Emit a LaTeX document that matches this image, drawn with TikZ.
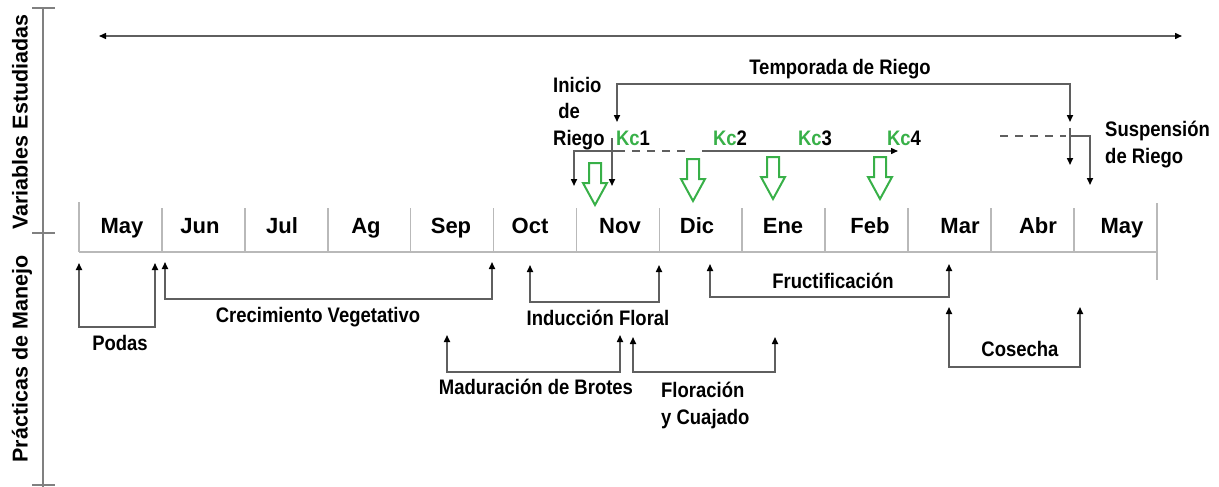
\documentclass[tikz,border=0pt]{standalone}
\usepackage{fontspec}
\setmainfont{Liberation Sans}
\newfontfamily\estrecha[FakeStretch=0.88]{Liberation Sans}
\usepackage{xcolor}
\usepackage{tikz}
\usetikzlibrary{arrows.meta}
\definecolor{kcverde}{RGB}{56,176,72}
\definecolor{linea}{RGB}{95,95,95}
\definecolor{celda}{RGB}{185,185,185}
\tikzset{
  punta/.tip={Triangle[length=7pt,width=6pt,color=black]},
  tramo/.style={draw=linea, line width=1.6pt, punta-punta},
  flecha/.style={draw=linea, line width=1.6pt, -punta},
  etiqueta/.style={font=\estrecha\bfseries\fontsize{21}{26.5}\selectfont, inner sep=0pt},
  mes/.style={font=\bfseries\fontsize{22}{26}\selectfont, inner sep=0pt, anchor=base},
  kcflecha/.style={draw=kcverde, line width=2pt},
}
\begin{document}
\begin{tikzpicture}[x=1pt,y=-1pt]
    \useasboundingbox (0,0) rectangle (1219,487);
    %EJE
    \draw[gray, line width=1.4pt] (43,8) -- (43,487);
    \foreach \y in {8,233,485} \draw[gray, line width=1.4pt] (32,\y) -- (55,\y);
    \node[rotate=90, font=\bfseries\fontsize{21.5}{24}\selectfont] (variables) at (20,122) {Variables Estudiadas};
    \node[rotate=90, font=\bfseries\fontsize{21.5}{24}\selectfont] (practicas) at (22,359) {Prácticas de Manejo};
    %MESES
    \draw[celda, line width=1.6pt] (79,252) -- (1157,252);
    \draw[celda, line width=1.6pt] (79,202) -- (79,252);
    \foreach \i in {1,...,12} \draw[celda, line width=1.6pt] (79+82.9*\i,208) -- (79+82.9*\i,252);
    \draw[celda, line width=1.6pt] (1157,203) -- (1157,280);
    \foreach \m/\x [count=\k] in {May/122,Jun/200,Jul/282,Ag/366,Sep/451,Oct/530,Nov/620,Dic/697,Ene/783,Feb/870,Mar/960,Abr/1038,May/1122}
        \node[mes] (mes\k) at (\x,233) {\m};
    %RIEGO
    \coordinate (ciclo1) at (99,36);
    \coordinate (ciclo2) at (1182,36);
    \draw[linea, line width=1.4pt, punta-punta] (ciclo1) -- (ciclo2);
    \coordinate (tempI) at (617,122);
    \coordinate (tempD) at (1070,122);
    \draw[tramo] (tempI) -- (617,84) -| (tempD);
    \node[etiqueta, anchor=base] (temporada) at (840,75) {Temporada de Riego};
    \node[etiqueta, align=left, anchor=north west] (inicio) at (553,77) {Inicio\\\ de\\Riego};
    \foreach \x [count=\k] in {633,730,815,904}
        \node[etiqueta, anchor=base] (kc\k) at (\x,145) {\textcolor{kcverde}{Kc}\k};
    \coordinate (iniI) at (574,186);
    \coordinate (iniD) at (612,186);
    \draw[flecha] (617,151) -| (iniI);
    \draw[flecha] (612,138) -- (iniD);
    \draw[linea, line width=1.4pt, dash pattern=on 8pt off 7pt] (617,151) -- (690,151);
    \draw[flecha, line width=1.4pt] (702,151) -- (898,151);
    \coordinate (suspI) at (1070,165);
    \coordinate (suspD) at (1090,185);
    \draw[linea, line width=1.4pt, dash pattern=on 8pt off 7pt] (1000,136) -- (1066,136);
    \draw[flecha] (1070,128) -- (suspI);
    \draw[flecha] (1070,136) -| (suspD);
    \node[etiqueta, align=left, anchor=north west] (suspension) at (1105,121) {Suspensión\\de Riego};
    \foreach \x/\y in {595/163,693/159,773/157,880/157}
        \draw[kcflecha] (\x-6,\y) -- (\x+6,\y) -- (\x+6,\y+20) -- (\x+12,\y+20) -- (\x,\y+42) -- (\x-12,\y+20) -- (\x-6,\y+20) -- cycle;
    %PRACTICAS
    \foreach \n/\a/\b/\t/\f in {podas/79/155/263/327,creci/165/492/262/299,induc/530/659/265/302,madur/447/620/335/372,flora/633/775/337/372,fruct/710/949/264/297,cosec/949/1080/307/367}{
        \coordinate (\n I) at (\a,\t);
        \coordinate (\n D) at (\b,\t);
        \draw[tramo] (\n I) -- (\a,\f) -- (\b,\f) -- (\n D);
    }
    \node[etiqueta, anchor=base] (podas) at (120,350) {Podas};
    \node[etiqueta, anchor=base] (crecimiento) at (318,322) {Crecimiento Vegetativo};
    \node[etiqueta, anchor=base] (induccion) at (598,325) {Inducción Floral};
    \node[etiqueta, anchor=base] (maduracion) at (536,394) {Maduración de Brotes};
    \node[etiqueta, align=left, anchor=north west] (floracion) at (661,382) {Floración\\y Cuajado};
    \node[etiqueta, anchor=base] (fructificacion) at (833,288) {Fructificación};
    \node[etiqueta, anchor=base] (cosecha) at (1020,356) {Cosecha};
\end{tikzpicture}
\end{document}
